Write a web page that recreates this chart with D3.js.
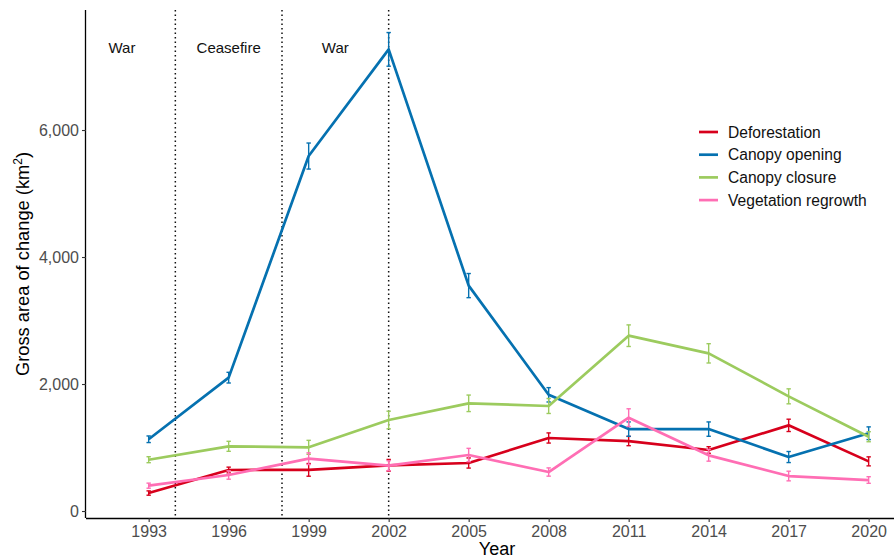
<!DOCTYPE html>
<html>
<head>
<meta charset="utf-8">
<script src="https://cdn.jsdelivr.net/npm/d3@7"></script>
<style>
  html, body { margin: 0; padding: 0; background: #fff; }
  svg { display: block; font-family: "Liberation Sans", Arial, sans-serif; }
</style>
</head>
<body>
<svg id="chart" width="894" height="560"></svg>
<script>
// Survey years
const years = [1993, 1996, 1999, 2002, 2005, 2008, 2011, 2014, 2017, 2020];

// Gross area of change (km²) per class, with ± error
const deforestation      = [283, 646, 648, 720, 756, 1150, 1102, 961, 1349, 782];
const deforestationErr   = [34, 45, 100, 92, 80, 80, 73, 52, 97, 71];
const canopyOpening      = [1130, 2100, 5590, 7270, 3550, 1830, 1290, 1290, 850, 1225];
const canopyOpeningErr   = [52, 84, 205, 265, 190, 113, 113, 113, 87, 100];
const canopyClosure      = [808, 1019, 1003, 1433, 1696, 1654, 2761, 2483, 1806, 1170];
const canopyClosureErr   = [47, 79, 110, 139, 130, 118, 170, 152, 118, 79];
const vegRegrowth        = [399, 567, 824, 714, 882, 614, 1470, 877, 551, 488];
const vegRegrowthErr     = [40, 66, 92, 79, 105, 65, 140, 92, 76, 52];

const seriesNames  = ["Deforestation", "Canopy opening", "Canopy closure", "Vegetation regrowth"];
const seriesColors = ["#d7001c", "#0571b0", "#9ccb5e", "#ff6eb4"];

// Conflict periods: boundaries and labels
const periodBreaks = [1994, 1998, 2002];
const periodLabels = [
  { year: 1992, text: "War" },
  { year: 1996, text: "Ceasefire" },
  { year: 2000, text: "War" }
];

const yTicks = [0, 2000, 4000, 6000];

const series = [
  { name: seriesNames[0], color: seriesColors[0], values: deforestation, err: deforestationErr },
  { name: seriesNames[1], color: seriesColors[1], values: canopyOpening, err: canopyOpeningErr },
  { name: seriesNames[2], color: seriesColors[2], values: canopyClosure, err: canopyClosureErr },
  { name: seriesNames[3], color: seriesColors[3], values: vegRegrowth, err: vegRegrowthErr }
];

const svg = d3.select("#chart");
const panel = { left: 86, right: 894, top: 10, bottom: 518 };

const x = d3.scaleLinear().domain([1990.65, 2020.95]).range([panel.left, panel.right]);
const y = d3.scaleLinear().domain([-110, 7890]).range([panel.bottom, panel.top]);

// Period boundaries
svg.append("g").selectAll("line").data(periodBreaks).join("line")
  .attr("x1", d => x(d)).attr("x2", d => x(d))
  .attr("y1", panel.top).attr("y2", panel.bottom)
  .attr("stroke", "#111").attr("stroke-width", 1.5)
  .attr("stroke-dasharray", "1.5,3");

svg.append("g").selectAll("text").data(periodLabels).join("text")
  .attr("x", d => x(d.year)).attr("y", 53)
  .attr("text-anchor", "middle")
  .attr("font-size", 15).attr("fill", "#111")
  .text(d => d.text);

// Axes
const xAxis = d3.axisBottom(x).tickValues(years).tickFormat(d3.format("d")).tickSize(4).tickPadding(4);
const gx = svg.append("g").attr("transform", `translate(0,${panel.bottom})`).call(xAxis);
const yAxis = d3.axisLeft(y).tickValues(yTicks).tickFormat(d3.format(",")).tickSize(4).tickPadding(3);
const gy = svg.append("g").attr("transform", `translate(${panel.left},0)`).call(yAxis);

[gx, gy].forEach(g => {
  g.select(".domain").attr("stroke", "#000").attr("stroke-width", 1.3);
  g.selectAll(".tick line").attr("stroke", "#333").attr("stroke-width", 1.1);
  g.selectAll(".tick text").attr("fill", "#4d4d4d").attr("font-size", 16)
    .attr("font-family", "Liberation Sans, Arial, sans-serif");
});
gx.select(".domain").attr("d", `M${panel.left},0.5H${panel.right}`);
gy.select(".domain").attr("d", `M-0.5,${panel.top}V${panel.bottom}`);

// Axis titles
svg.append("text")
  .attr("x", 497).attr("y", 555)
  .attr("text-anchor", "middle").attr("font-size", 18).attr("fill", "#000")
  .text("Year");

const yTitle = svg.append("text")
  .attr("transform", `translate(29,${(panel.top + panel.bottom) / 2}) rotate(-90)`)
  .attr("text-anchor", "middle").attr("font-size", 18.3).attr("fill", "#000");
yTitle.append("tspan").text("Gross area of change (km");
yTitle.append("tspan").attr("font-size", 12).attr("dy", -7).text("2");
yTitle.append("tspan").attr("dy", 7).text(")");

// Error bars and lines
const line = d3.line().x((d, i) => x(years[i])).y(d => y(d));

series.forEach(s => {
  const g = svg.append("g");
  const pts = s.values.map((v, i) => ({ yr: years[i], v, e: s.err[i] }));
  g.selectAll("line.bar").data(pts).join("line")
    .attr("x1", d => x(d.yr)).attr("x2", d => x(d.yr))
    .attr("y1", d => y(d.v - d.e)).attr("y2", d => y(d.v + d.e))
    .attr("stroke", s.color).attr("stroke-width", 1.4);
  ["-", "+"].forEach(sign => {
    g.selectAll(`line.cap${sign === "-" ? "lo" : "hi"}`).data(pts).join("line")
      .attr("x1", d => x(d.yr) - 2.2).attr("x2", d => x(d.yr) + 2.2)
      .attr("y1", d => y(sign === "-" ? d.v - d.e : d.v + d.e))
      .attr("y2", d => y(sign === "-" ? d.v - d.e : d.v + d.e))
      .attr("stroke", s.color).attr("stroke-width", 1.4);
  });
  g.append("path").datum(s.values)
    .attr("d", line)
    .attr("fill", "none").attr("stroke", s.color)
    .attr("stroke-width", 2.7).attr("stroke-linejoin", "round");
});

// Legend
const legend = svg.append("g").attr("transform", "translate(699,132)");
const rows = legend.selectAll("g").data(series).join("g")
  .attr("transform", (d, i) => `translate(0,${i * 22.7})`);
rows.append("line").attr("x1", 0).attr("x2", 19).attr("y1", 0).attr("y2", 0)
  .attr("stroke", d => d.color).attr("stroke-width", 2.7);
rows.append("text").attr("x", 29).attr("y", 5.5)
  .attr("font-size", 15.6).attr("fill", "#111")
  .text(d => d.name);
</script>
</body>
</html>
